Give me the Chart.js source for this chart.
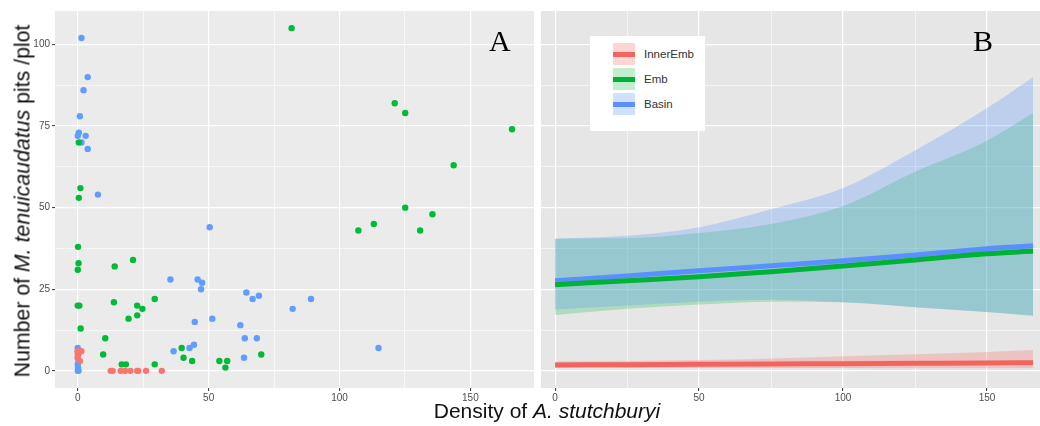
<!DOCTYPE html>
<html>
<head>
<meta charset="utf-8">
<script src="https://cdn.jsdelivr.net/npm/chart.js@4.4.1/dist/chart.umd.min.js"></script>
<style>
  body { margin: 0; background: #fff; }
  #wrap { position: relative; width: 1040px; height: 426px; overflow: hidden;
          font-family: "Liberation Sans", Arial, sans-serif; color: #111; }
  #panelA { position: absolute; left: 0; top: 0; }
  #panelB { position: absolute; left: 538px; top: 0; }
  .ytitle { position: absolute; left: 23px; top: 201px; white-space: nowrap; font-size: 21.3px;
            transform: translate(-50%, -50%) rotate(-90deg); }
  .xtitle { position: absolute; left: 547px; top: 411px; white-space: nowrap; font-size: 21px;
            transform: translate(-50%, -50%); }
  .tag { position: absolute; top: 26px; font-family: "Liberation Serif", "Times New Roman", serif;
         font-size: 30px; line-height: 30px; color: #000; }
  #legend { position: absolute; left: 590px; top: 36px; width: 115px; height: 95px; background: #fff; }
  .key { position: absolute; left: 23px; width: 22px; height: 22px; }
  .key span { position: absolute; left: 0; right: 0; top: 8.5px; height: 5px; }
  .lab { position: absolute; left: 54px; font-size: 11.5px; color: #333; line-height: 14px; }
</style>
</head>
<body>
<div id="wrap">
  <canvas id="panelA" width="538" height="426"></canvas>
  <canvas id="panelB" width="502" height="426"></canvas>
  <div class="ytitle">Number of <i>M. tenuicaudatus</i> pits /plot</div>
  <div class="xtitle">Density of <i>A. stutchburyi</i></div>
  <div class="tag" style="left:489px">A</div>
  <div class="tag" style="left:973px">B</div>
  <div id="legend"></div>
</div>
<script>
Chart.defaults.animation = false;
Chart.defaults.font.family = '"Liberation Sans", Arial, sans-serif';

var groups = ['InnerEmb', 'Emb', 'Basin'];
var pointColors = ['#F8766D', '#00BA38', '#619CFF'];
var lineColors = ['#F2645E', '#00B236', '#5B8FFF'];
var bandFills = ['rgba(248,118,109,0.3)', 'rgba(0,186,56,0.24)', 'rgba(97,156,255,0.3)'];

var xBreaks = [0, 50, 100, 150];
var yBreaks = [0, 25, 50, 75, 100];

// panel A: raw plots
var innerX = [0, 1.4, 0, 0, 0.8, 12.6, 13.3, 16.4, 18.1, 20.1, 22.7, 23.1, 26.1, 32.1];
var innerY = [6, 6, 5, 4, 3, 0, 0, 0, 0, 0, 0, 0, 0, 0];

var embX = [0.4, 1.0, 0.4, 0.1, 0.3, 0, 0, 0.6, 1.1, 10.5, 9.7, 14.1, 13.8, 21.1, 22.7, 24.7, 19.4,
            22.7, 29.4, 16.8, 18.4, 29.4, 39.7, 40.4, 43.7, 54.1, 57.1, 56.4, 70.1, 81.7, 107.2,
            113.1, 121.1, 125.1, 125.1, 130.8, 135.5, 143.6, 165.9];
var embY = [70, 56, 53, 38, 33, 31, 20, 20, 13, 10, 5, 32, 21, 34, 20, 19, 16,
            17, 22, 2, 2, 2, 7, 4, 3, 3, 3, 1, 5, 105, 43,
            45, 82, 79, 50, 43, 48, 63, 74];

var basinX = [1.4, 3.8, 2.2, 0.8, 0.4, 0, 3.0, 1.4, 3.8, 7.7, 0, 0, 0.2, 0, 0.3, 0, 0.1, 0, 0.3,
              35.4, 45.8, 47.5, 47.1, 51.4, 44.7, 36.6, 42.7, 44.4, 50.4, 64.4, 66.8, 69.2,
              62.1, 63.8, 68.4, 63.5, 82.1, 89.1, 114.9];
var basinY = [102, 90, 86, 78, 73, 72, 72, 70, 68, 54, 7, 6, 5, 4, 3, 2, 1, 0, 0,
              28, 28, 27, 25, 16, 15, 6, 7, 8, 44, 24, 22, 23,
              14, 10, 10, 4, 19, 22, 7];

// panel B: fitted lines and confidence bands
var bandX = [0, 25, 50, 75, 100, 125, 150, 166];
var innerFit = [1.8, 1.9, 2.0, 2.1, 2.2, 2.3, 2.4, 2.5];
var innerLow = [0.9, 0.9, 0.9, 0.9, 0.9, 0.8, 0.8, 0.8];
var innerHigh = [2.9, 3.0, 3.3, 3.8, 4.5, 5.1, 5.8, 6.4];
var embFit = [26.4, 27.6, 28.8, 30.4, 32.1, 34.0, 35.9, 36.7];
var embLow = [17.1, 19.0, 20.3, 21.2, 21.0, 19.5, 18.0, 16.8];
var embHigh = [40.5, 40.6, 42.2, 45.0, 50.5, 61.0, 70.5, 79.0];
var basinFit = [27.6, 29.1, 30.7, 32.2, 33.7, 35.5, 37.4, 38.3];
var basinLow = [18.8, 20.0, 21.2, 21.8, 21.0, 19.5, 18.0, 17.0];
var basinHigh = [40.5, 41.4, 44.0, 49.5, 56.0, 67.5, 80.5, 90.0];

function pairs(xs, ys) {
  return xs.map(function (x, i) { return { x: x, y: ys[i] }; });
}

function gridTicks(breaks, lo, hi) {
  var out = [];
  var half = (breaks[1] - breaks[0]) / 2;
  if (breaks[0] - half >= lo) out.push({ value: breaks[0] - half });
  breaks.forEach(function (b) {
    out.push({ value: b });
    if (b + half <= hi) out.push({ value: b + half });
  });
  return out;
}

function axis(breaks, lo, hi, showLabels, size, isY) {
  return {
    type: 'linear', min: lo, max: hi,
    afterBuildTicks: function (s) { s.ticks = gridTicks(breaks, lo, hi); },
    afterFit: function (s) { if (isY) s.width = size; else s.height = size; },
    border: { display: false },
    grid: {
      color: '#ffffff',
      lineWidth: function (c) { return c.tick && breaks.indexOf(c.tick.value) >= 0 ? 1.2 : 0.6; },
      drawTicks: showLabels,
      tickLength: 3,
      tickWidth: 1,
      tickColor: function (c) { return c.tick && breaks.indexOf(c.tick.value) >= 0 ? '#333333' : 'rgba(0,0,0,0)'; }
    },
    ticks: {
      display: showLabels,
      padding: isY ? 2 : 1,
      color: '#4D4D4D',
      font: { size: 10 },
      maxRotation: 0,
      autoSkip: false,
      callback: function (v) { return breaks.indexOf(v) >= 0 ? String(v) : ''; }
    }
  };
}

var panelBg = {
  id: 'panelBg',
  beforeDraw: function (chart, args, opts) {
    var a = chart.chartArea, c = chart.ctx;
    c.save();
    c.fillStyle = opts.color;
    c.fillRect(a.left, a.top, a.right - a.left, a.bottom - a.top);
    c.restore();
  }
};

var scatterX = [innerX, embX, basinX];
var scatterY = [innerY, embY, basinY];

new Chart(document.getElementById('panelA'), {
  type: 'scatter',
  data: {
    datasets: groups.map(function (g, i) {
      return {
        label: g,
        data: pairs(scatterX[i], scatterY[i]),
        backgroundColor: pointColors[i],
        borderWidth: 0,
        pointRadius: 3.2
      };
    })
  },
  options: {
    responsive: false,
    layout: { padding: { top: 11, right: 1, left: 0, bottom: 0 } },
    plugins: { legend: { display: false }, tooltip: { enabled: false }, panelBg: { color: '#EBEBEB' } },
    scales: {
      x: axis(xBreaks, -8.7, 174.3, true, 38, false),
      y: axis(yBreaks, -5.25, 110.25, true, 55, true)
    }
  },
  plugins: [panelBg]
});

var fits = [innerFit, embFit, basinFit];
var lows = [innerLow, embLow, basinLow];
var highs = [innerHigh, embHigh, basinHigh];
var bandOrder = [6, 5, 4];
var lineOrder = [3, 1, 2];

var bDatasets = [];
groups.forEach(function (g, i) {
  bDatasets.push({
    label: g + ' low', data: pairs(bandX, lows[i]), order: bandOrder[i],
    borderWidth: 0, pointRadius: 0, fill: false, cubicInterpolationMode: 'monotone'
  });
  bDatasets.push({
    label: g + ' high', data: pairs(bandX, highs[i]), order: bandOrder[i],
    borderWidth: 0, pointRadius: 0, fill: 2 * i, backgroundColor: bandFills[i],
    cubicInterpolationMode: 'monotone'
  });
});
groups.forEach(function (g, i) {
  bDatasets.push({
    label: g, data: pairs(bandX, fits[i]), order: lineOrder[i],
    borderColor: lineColors[i], borderWidth: 5, borderCapStyle: 'butt',
    pointRadius: 0, fill: false, cubicInterpolationMode: 'monotone'
  });
});

new Chart(document.getElementById('panelB'), {
  type: 'line',
  data: { datasets: bDatasets },
  options: {
    responsive: false,
    layout: { padding: { top: 11, right: 0, left: 0, bottom: 0 } },
    plugins: { legend: { display: false }, tooltip: { enabled: false }, panelBg: { color: '#E6E6E6' } },
    scales: {
      x: axis(xBreaks, -4.9, 168.4, true, 38, false),
      y: axis(yBreaks, -5.25, 110.25, false, 3, true)
    }
  },
  plugins: [panelBg]
});

// legend box inside panel B
var legend = document.getElementById('legend');
groups.forEach(function (g, i) {
  var key = document.createElement('div');
  key.className = 'key';
  key.style.top = (7 + i * 25) + 'px';
  key.style.background = bandFills[i];
  var bar = document.createElement('span');
  bar.style.background = lineColors[i];
  key.appendChild(bar);
  legend.appendChild(key);
  var lab = document.createElement('div');
  lab.className = 'lab';
  lab.style.top = (11 + i * 25) + 'px';
  lab.textContent = g;
  legend.appendChild(lab);
});
</script>
</body>
</html>
